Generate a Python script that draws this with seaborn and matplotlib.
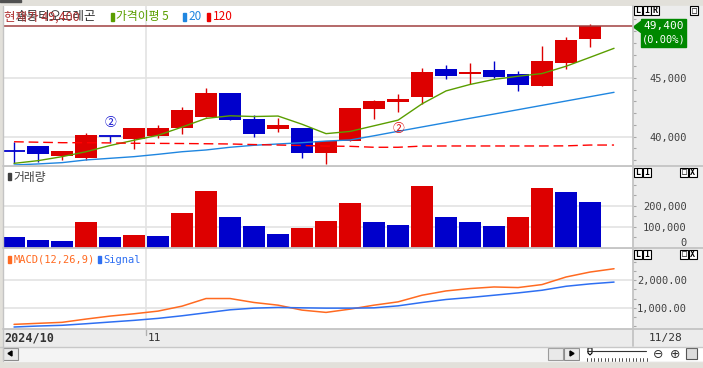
import numpy as np
import pandas as pd
import matplotlib
matplotlib.use('Agg')
import matplotlib.pyplot as plt
import matplotlib.transforms as mtransforms
from matplotlib.patches import Rectangle, Polygon
from matplotlib.ticker import FixedLocator, MultipleLocator, FuncFormatter
import seaborn as sns

# 일봉 데이터
opens = [38780, 39210, 38360, 38160, 40090, 39800, 40090, 40770, 41680, 43750, 41530, 40660, 40740,
         38640, 39660, 42390, 42980, 43410, 45770, 45370, 45680, 45320, 44340, 46280, 48350]
highs = [39570, 39210, 38810, 40290, 40090, 40740, 41000, 42560, 44170, 43750, 41850, 41570, 40740,
         39630, 42470, 43100, 43660, 45850, 46110, 46280, 46450, 45620, 47730, 48490, 49600]
lows = [37730, 37870, 38020, 38020, 39570, 38930, 39920, 40260, 41680, 41420, 40000, 40430, 38210,
        37650, 39660, 41530, 42080, 42790, 44940, 44460, 45000, 43920, 44340, 45740, 47670]
closes = [38780, 38530, 38810, 40150, 40090, 40740, 40740, 42270, 43750, 41420, 40260, 41020, 38640,
          39630, 42470, 43070, 43210, 45510, 45150, 45510, 45110, 44430, 46450, 48260, 49400]
volume = [48000, 38000, 29000, 124000, 48000, 62000, 57000, 167000, 271000, 148000, 105000, 67000, 95000,
          129000, 214000, 124000, 110000, 295000, 148000, 124000, 105000, 148000, 286000, 267000, 219000]

# 이동평균선 (가격이평 5 / 20 / 120)
ma5 = [37730, 37960, 38300, 38720, 39250, 39700, 40120, 40820, 41560, 41780, 41720, 41760, 41060,
       40260, 40450, 40930, 41410, 42800, 43900, 44450, 44880, 45150, 45380, 46000, 46760, 47530]
ma20 = [37590, 37680, 37790, 38020, 38160, 38300, 38500, 38720, 38870, 39100, 39270, 39380, 39490,
        39630, 39720, 40080, 40460, 40830, 41200, 41570, 41930, 42300, 42670, 43040, 43410, 43780]
ma120 = [39570, 39530, 39490, 39490, 39470, 39440, 39430, 39420, 39400, 39380, 39330, 39290, 39250,
         39200, 39180, 39100, 39100, 39200, 39210, 39210, 39210, 39210, 39210, 39220, 39290, 39290]

# MACD(12,26,9) / Signal
macd = [400, 437, 473, 592, 700, 784, 881, 1061, 1338, 1338, 1194, 1097, 917, 834, 953, 1097, 1217,
        1458, 1614, 1700, 1758, 1736, 1845, 2120, 2300, 2420]
signal = [303, 339, 365, 422, 484, 545, 617, 711, 820, 928, 989, 1014, 1000, 989, 989, 1000, 1072,
          1194, 1303, 1375, 1458, 1542, 1639, 1783, 1870, 1935]

last_price = 49400
month_start = 5.5
date_labels = ['2024/10', '11', '11/28']

RED = '#dd0000'
BLUE = '#0000cc'
GREEN = '#5a9e00'
MA_BLUE = '#1f86e0'
ORANGE = '#ff6a21'
SIG_BLUE = '#2e6ff2'
GRID = '#e3e3e3'
PANEL = '#ececec'
SEP = '#c4c4c4'
TXT = '#404040'
MONO = 'DejaVu Sans Mono'

sns.set_theme(style='white')
plt.rcParams['font.family'] = ['Noto Sans CJK KR', 'DejaVu Sans']
plt.rcParams['axes.unicode_minus'] = False

W, H = 703, 368
fig = plt.figure(figsize=(W / 100, H / 100), dpi=100, facecolor='#e2e0da')


def px_rect(l, t, r, b):
    return [l / W, 1 - b / H, (r - l) / W, (b - t) / H]


# 배경 (창 틀)
bg = fig.add_axes([0, 0, 1, 1])
bg.set_xlim(0, W)
bg.set_ylim(H, 0)
bg.axis('off')
bg.add_patch(Rectangle((0, 0), 21, 2, color='#505050'))
bg.add_patch(Rectangle((633, 6), 70, 340, color=PANEL))
bg.add_patch(Rectangle((3, 329), 630, 17, color=PANEL))
bg.add_patch(Rectangle((3, 347), 700, 14, color='#f4f4f4'))

xlim = (-0.46, 25.79)
x = np.arange(len(closes))
o = np.array(opens)
c = np.array(closes)
colors = np.where(c > o, RED, BLUE)

# ✅ 가격 패널
axp = fig.add_axes(px_rect(3, 6, 633, 165.5))
axp.vlines(x, lows, highs, colors=colors, lw=1.0, zorder=2)
axp.bar(x, np.abs(c - o), bottom=np.minimum(o, c), width=0.92, color=colors, linewidth=0, zorder=3)
doji = c == o
axp.hlines(o[doji], x[doji] - 0.45, x[doji] + 0.45, colors=colors[doji], lw=1.3, zorder=3)

xl = np.arange(len(ma5))
sns.lineplot(x=xl, y=ma5, color=GREEN, lw=1.0, ax=axp, zorder=4)
sns.lineplot(x=xl, y=ma20, color=MA_BLUE, lw=1.0, ax=axp, zorder=4)
sns.lineplot(x=xl, y=ma120, color='#ff0000', lw=1.0, linestyle=(0, (7, 3.5)), ax=axp, zorder=4)
axp.axhline(last_price, color='#a04040', lw=1.1, zorder=5)

axp.text(4, highs[4] + 1150, '②', color=BLUE, fontsize=8.5, ha='center', va='center', zorder=6)
axp.text(16, lows[16] - 1370, '②', color=RED, fontsize=8.5, ha='center', va='center', zorder=6)

axp.set_ylim(37547, 51133)
axp.yaxis.set_major_locator(FixedLocator([40000, 45000]))
axp.yaxis.set_minor_locator(MultipleLocator(1000))
axp.yaxis.set_major_formatter(FuncFormatter(lambda v, p: f'{v:,.0f}'))

# ✅ 거래량 패널
axv = fig.add_axes(px_rect(3, 167, 633, 247.5))
vol_dir = ['up' if i > 0 and volume[i] > volume[i - 1] else 'down' for i in range(len(volume))]
vol_df = pd.DataFrame({'idx': x, 'volume': volume, 'dir': vol_dir})
sns.barplot(data=vol_df, x='idx', y='volume', hue='dir', palette={'up': RED, 'down': BLUE},
            native_scale=True, width=0.95, dodge=False, saturation=1, errorbar=None,
            legend=False, linewidth=0, ax=axv, zorder=3)
axv.set_ylim(0, 386000)
axv.yaxis.set_major_locator(FixedLocator([100000, 200000]))
axv.yaxis.set_minor_locator(MultipleLocator(50000))
axv.yaxis.set_major_formatter(FuncFormatter(lambda v, p: f'{v:,.0f}'))

# ✅ MACD 패널
axm = fig.add_axes(px_rect(3, 249, 633, 329))
sns.lineplot(x=xl, y=macd, color=ORANGE, lw=1.1, ax=axm, zorder=4)
sns.lineplot(x=xl, y=signal, color=SIG_BLUE, lw=1.1, ax=axm, zorder=4)
axm.set_ylim(231, 3137)
axm.yaxis.set_major_locator(FixedLocator([1000, 2000]))
axm.yaxis.set_minor_locator(MultipleLocator(1000 / 3))
axm.yaxis.set_major_formatter(FuncFormatter(lambda v, p: f'{v:,.2f}'))

pad_pt = (54 - 3.5) / 1.389
for ax in (axp, axv, axm):
    ax.set_xlim(*xlim)
    ax.set_facecolor('white')
    ax.set_xlabel('')
    ax.set_ylabel('')
    ax.set_xticks([])
    for s in ax.spines.values():
        s.set_visible(False)
    ax.grid(axis='y', which='major', color=GRID, lw=1.2, zorder=0)
    ax.grid(axis='x', visible=False)
    ax.axvline(month_start, color=GRID, lw=1.2, zorder=0)
    ax.tick_params(axis='y', which='both', direction='out', left=False, labelleft=False,
                   right=True, labelright=True, length=2.5, width=0.8, color='#a8a8a8',
                   labelsize=7.5, labelcolor=TXT, pad=pad_pt)
    plt.setp(ax.get_yticklabels(), ha='right', family=MONO)

axv.text(1 + 54 / 630, 0, '0', transform=mtransforms.blended_transform_factory(axv.transAxes, axv.transData),
         ha='right', va='bottom', fontsize=7.5, color=TXT, family=MONO)

# 날짜 축
dtr = mtransforms.blended_transform_factory(axm.transData, axm.transAxes)
axm.text(xlim[0] + 0.06, -0.115, date_labels[0], transform=dtr, fontsize=8.5, fontweight='bold',
         color='#333333', family=MONO, va='center', ha='left')
axm.text(month_start + 0.05, -0.115, date_labels[1], transform=dtr, fontsize=8, color='#333333',
         family=MONO, va='center', ha='left')
axm.plot([month_start, month_start], [0, -0.08], transform=dtr, color='#b0b0b0', lw=1, clip_on=False)

# ✅ 오버레이 (범례, 패널 구분선, 버튼 등)
ui = fig.add_axes([0, 0, 1, 1])
ui.set_xlim(0, W)
ui.set_ylim(H, 0)
ui.axis('off')
ui.patch.set_alpha(0)

for yy in (166.2, 248.2, 329.2):
    ui.plot([3, W], [yy, yy], color=SEP, lw=1.3)
ui.plot([0, W], [346.5, 346.5], color='#c8c8c8', lw=1.0)
ui.plot([633, 633], [6, 346], color=SEP, lw=1.3)
ui.plot([2.5, 2.5], [6, 361], color=SEP, lw=1.0)
ui.text(649, 338, date_labels[2], fontsize=8, color='#333333', family=MONO, va='center', ha='left')

# 제목 (원본처럼 겹쳐 표시됨)
ui.text(15, 16.5, '솔통티오드레곤', fontsize=9, color='#303030', va='center', ha='left')
ui.text(4, 17.5, '현재가 49,400', fontsize=9, color='#b03030', va='center', ha='left')

# 가격 패널 범례
legend_items = [(111, '가격이평 5', GREEN), (183, '20', MA_BLUE), (207, '120', '#ee0000')]
for lx, label, col in legend_items:
    ui.add_patch(Rectangle((lx, 12.5), 2.5, 8, color=col))
    ui.text(lx + 5.5, 16.5, label, fontsize=8.5, color=col, va='center', ha='left')

# 거래량 / MACD 범례
ui.add_patch(Rectangle((8, 172.5), 2.5, 7, color=TXT))
ui.text(13, 177, '거래량', fontsize=8.5, color=TXT, va='center', ha='left')
ui.add_patch(Rectangle((8, 256), 2.5, 7, color=ORANGE))
ui.text(14, 260, 'MACD(12,26,9)', fontsize=7.5, color=ORANGE, family=MONO, va='center', ha='left')
ui.add_patch(Rectangle((98, 256), 2.5, 7, color=SIG_BLUE))
ui.text(103, 260, 'Signal', fontsize=7.5, color=SIG_BLUE, family=MONO, va='center', ha='left')

# 현재가 박스
ui.add_patch(Rectangle((641, 19), 45, 28, color='#008800'))
ui.add_patch(Polygon([(633.5, 27), (641, 21.5), (641, 32.5)], closed=True, color='#008800'))
ui.text(643, 26.5, '49,400', fontsize=8, color='white', family=MONO, va='center', ha='left')
ui.text(642, 40, '(0.00%)', fontsize=7.5, color='white', family=MONO, va='center', ha='left')


def small_boxes(x0, y0, letters):
    for k, ch in enumerate(letters):
        bx = x0 + k * 8.5
        ui.add_patch(Rectangle((bx, y0), 8, 9, fc='white', ec='black', lw=0.8))
        ui.text(bx + 4, y0 + 4.8, ch, fontsize=6, fontweight='bold', family=MONO, ha='center',
                va='center', color='black')


small_boxes(634, 6, 'LIR')
small_boxes(690, 6, ['□'])
small_boxes(634, 167.5, 'LI')
small_boxes(680, 167.5, ['□', 'X'])
small_boxes(634, 249.5, 'LI')
small_boxes(680, 249.5, ['□', 'X'])

# 스크롤 바
ui.add_patch(Rectangle((3, 347.5), 15, 12.5, fc='#e9e9e9', ec='#8c8c8c', lw=0.8))
ui.add_patch(Polygon([(8, 353.5), (12, 351), (12, 356)], closed=True, color='black'))
ui.add_patch(Rectangle((548, 347.5), 15, 12.5, fc='#e9e9e9', ec='#9c9c9c', lw=0.8))
ui.add_patch(Rectangle((564, 347.5), 15, 12.5, fc='#e9e9e9', ec='#8c8c8c', lw=0.8))
ui.add_patch(Polygon([(574, 353.5), (570, 351), (570, 356)], closed=True, color='black'))
ui.add_patch(Rectangle((580, 347.5), 123, 13, fc='white', ec='none'))
ui.plot([587, 646], [350.5, 350.5], color='#333333', lw=0.8)
for tx in np.arange(587, 647, 3.5):
    ui.plot([tx, tx], [358, 360.5], color='#333333', lw=0.6)
ui.add_patch(Polygon([(588, 348), (592, 348), (592, 353), (590, 355), (588, 353)], closed=True,
                     fc='white', ec='black', lw=0.8))
ui.text(658, 354, '⊖', fontsize=9, color='#333333', ha='center', va='center', family='DejaVu Sans')
ui.text(675, 354, '⊕', fontsize=9, color='#333333', ha='center', va='center', family='DejaVu Sans')
ui.add_patch(Rectangle((686, 348), 11, 11, fc='#dcdcdc', ec='#555555', lw=0.8))

plt.savefig('out.png', dpi=100, facecolor=fig.get_facecolor())
